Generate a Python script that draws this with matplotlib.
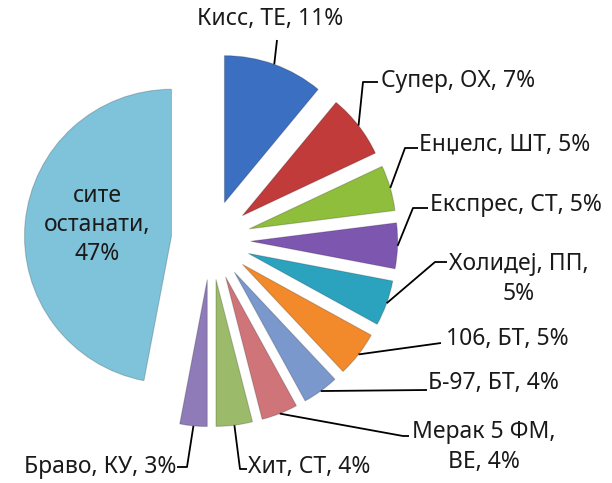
import matplotlib.pyplot as plt
import numpy as np

plt.rcParams['font.family'] = ['Noto Sans', 'DejaVu Sans']

# share of listeners per station, clockwise from 12 o'clock
labels = ["Кисс, ТЕ, 11%", "Супер, ОХ, 7%", "Енџелс, ШТ, 5%", "Експрес, СТ, 5%",
          "Холидеј, ПП,\n5%", "106, БТ, 5%", "Б-97, БТ, 4%", "Мерак 5 ФМ,\nВЕ, 4%",
          "Хит, СТ, 4%", "Браво, КУ, 3%", "сите\nостанати,\n47%"]
values = [11, 7, 5, 5, 5, 5, 4, 4, 4, 3, 47]
colors = ["#3b6fc1", "#c13b3b", "#8fbd3c", "#7d56b0", "#2ba3bf", "#f28a2b",
          "#7b98cc", "#cf757a", "#9cbb6a", "#8e7bb8", "#7fc3da"]

W, H = 612, 483
fig = plt.figure(figsize=(W / 100, H / 100), dpi=100)
ax = fig.add_axes([0, 0, 1, 1])

cx, cy, R = 211, H - 240, 147
# explode is in data units here (pixels), ~0.27 of the radius
wedges, _ = ax.pie(values, colors=colors, startangle=90, counterclock=False,
                   explode=[0.27 * R] * len(values), radius=R, center=(cx, cy),
                   frame=True,
                   wedgeprops=dict(edgecolor="#00000030", linewidth=0.8))
ax.set_xlim(0, W)
ax.set_ylim(0, H)
ax.set_aspect("equal")
ax.axis("off")

# label layout (image pixel coords, y downwards): elbow, line end, text anchor, alignment
layout = [
    [(277, 40), None, (270, 19), "center"],
    [(363, 82), (378, 82), (381, 81), "left"],
    [(405, 148), (418, 148), (419, 144), "left"],
    [(413, 208), (428, 208), (430, 205), "left"],
    [(435, 262), (447, 262), (519, 279), "center"],
    [(441, 343), None, (446, 339), "left"],
    [(427, 390), None, (428, 383), "left"],
    [(403, 436), (409, 436), (484, 447), "center"],
    [(240, 469), (247, 469), (248, 467), "left"],
    [(187, 467), (177, 467), (176, 467), "right"],
]

for w, lab, lay in zip(wedges[:-1], labels[:-1], layout):
    mid = np.deg2rad((w.theta1 + w.theta2) / 2)
    x0 = w.center[0] + w.r * np.cos(mid)
    y0 = w.center[1] + w.r * np.sin(mid)
    pts = [(x0, y0), (lay[0][0], H - lay[0][1])]
    if lay[1] is not None:
        pts.append((lay[1][0], H - lay[1][1]))
    xs, ys = zip(*pts)
    ax.plot(xs, ys, color="black", lw=1.3, solid_capstyle="butt")
    tx, ty = lay[2]
    ax.text(tx, H - ty, lab, ha=lay[3], va="center", fontsize=16.5,
            linespacing=1.3, color="#1a1a1a")

ax.text(97, H - 225, labels[-1], ha="center", va="center", fontsize=16.5,
        linespacing=1.3, color="#1a1a1a")

fig.savefig("out.png", dpi=100)
